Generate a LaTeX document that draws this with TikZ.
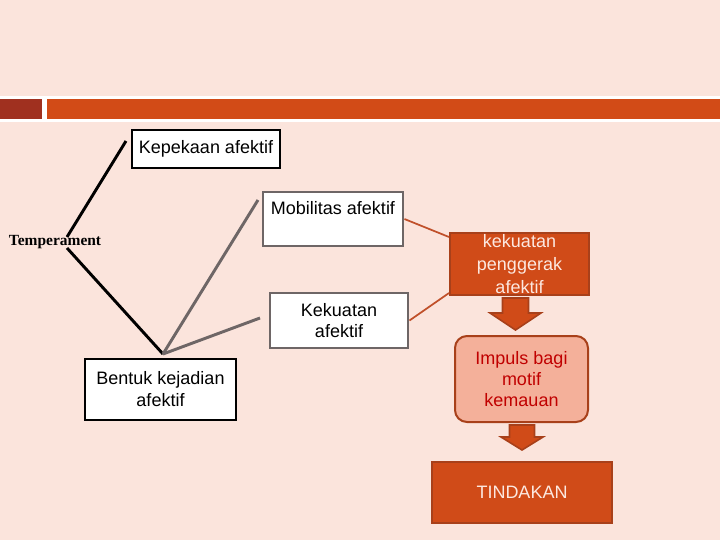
\documentclass[tikz,border=0pt]{standalone}
\usepackage{fontspec}
\setmainfont{Liberation Sans}
\newfontfamily\serifface{Liberation Serif}
\definecolor{bgpink}{HTML}{FBE4DC}
\definecolor{darkred}{HTML}{A0301F}
\definecolor{barorange}{HTML}{D24B17}
\definecolor{boxorange}{HTML}{D04B18}
\definecolor{edgeorange}{HTML}{A8401A}
\definecolor{lineorange}{HTML}{C0502A}
\definecolor{salmon}{HTML}{F4B09A}
\definecolor{impred}{HTML}{C00000}
\definecolor{lightpink}{HTML}{FCE8E0}
\definecolor{greyline}{HTML}{6E6666}
\tikzset{
  whitebox/.style={draw=black, line width=1.9pt, fill=white, align=center, inner sep=0pt,
    font=\fontsize{13.5}{16.5}\selectfont},
  greybox/.style={draw=greyline, line width=2.2pt, fill=white, align=center, inner sep=0pt,
    font=\fontsize{13.5}{16}\selectfont},
  orangebox/.style={draw=edgeorange, line width=1.5pt, fill=boxorange, align=center, inner sep=0pt,
    text=lightpink, font=\fontsize{13.5}{17}\selectfont},
  impbox/.style={draw=edgeorange, line width=1.5pt, fill=salmon, rounded corners=9pt, align=center,
    inner sep=0pt, text=impred, font=\fontsize{13.5}{16}\selectfont},
  blackline/.style={draw=black, line width=2.2pt},
  greylink/.style={draw=greyline, line width=2.2pt},
  orangelink/.style={draw=lineorange, line width=1.3pt},
  blockarrow/.style={fill=boxorange, draw=edgeorange, line width=1.2pt, line join=miter}
}
\begin{document}
\begin{tikzpicture}[x=0.75pt, y=-0.75pt]
\useasboundingbox (0,0) rectangle (720,540);
\fill[bgpink] (0,0) rectangle (720,540);
% top band
\fill[white] (0,96) rectangle (720,122);
\fill[darkred] (0,99) rectangle (42,119);
\fill[barorange] (47,99) rectangle (720,119);

% nodes
\node[whitebox, minimum width=148*0.75pt, minimum height=38*0.75pt] (kp) at (206,149) {Kepekaan afektif};
\node[greybox, minimum width=140*0.75pt, minimum height=54*0.75pt] (mb) at (333,219) {Mobilitas afektif\\[1pt]~};
\node[greybox, minimum width=138*0.75pt, minimum height=55*0.75pt] (ku) at (339,320.5) {Kekuatan\\afektif};
\node[whitebox, minimum width=151*0.75pt, minimum height=61*0.75pt] (bk) at (160.5,389.5) {Bentuk kejadian\\afektif};
\node[font=\serifface\bfseries\fontsize{11.6}{14}\selectfont, inner sep=0pt] (tp) at (55,242) {Temperament};
\node[orangebox, minimum width=139*0.75pt, minimum height=62*0.75pt] (pg) at (519.5,264) {kekuatan\\penggerak\\afektif};
\node[impbox, minimum width=133*0.75pt, minimum height=86*0.75pt] (im) at (521.5,379) {Impuls bagi\\motif\\kemauan};
\node[orangebox, minimum width=180*0.75pt, minimum height=61*0.75pt, font=\fontsize{13.5}{16}\selectfont] (td) at (522,492.5) {TINDAKAN};

% coordinates for line ends
\coordinate (ta) at (67,237);
\coordinate (tb) at (67,248);
\coordinate (kpend) at (126,141);
\coordinate (hub) at (163,354);
\coordinate (mbend) at (258,200);
\coordinate (kuend) at (260,318);

\draw[blackline] (ta) -- (kpend);
\draw[blackline] (tb) -- (hub);
\draw[greylink] (hub) -- (mbend);
\draw[greylink] (hub) -- (kuend);

\draw[orangelink] (mb.east) -- ([yshift=-3.75pt]pg.north west);
\draw[orangelink] (ku.east) -- ([yshift=2.25pt]pg.south west);

% block arrows
\draw[blockarrow] (502.5,298) -- (528.5,298) -- (528.5,313) -- (541,313) -- (515.5,330)
  -- (490,313) -- (502.5,313) -- cycle;
\draw[blockarrow] (509.5,425) -- (534.5,425) -- (534.5,437) -- (543,437) -- (522,450)
  -- (501,437) -- (509.5,437) -- cycle;
\end{tikzpicture}
\end{document}
